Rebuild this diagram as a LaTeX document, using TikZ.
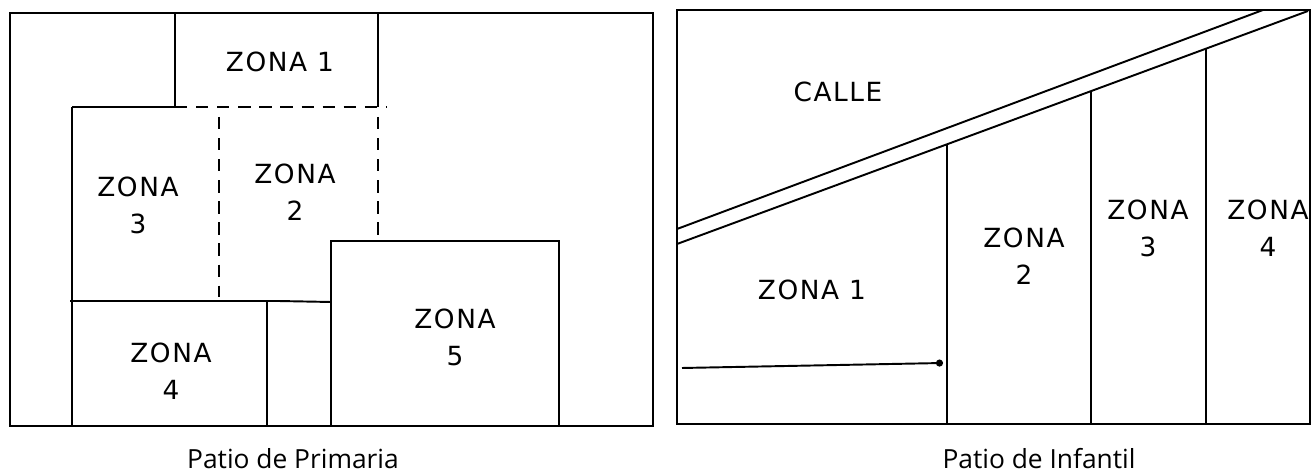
\documentclass[tikz,border=0pt]{standalone}
\usepackage{fontspec}
\setmainfont{Open Sans}
\newfontfamily\mano[LetterSpace=6]{DejaVu Sans}
\usetikzlibrary{arrows.meta}

\begin{document}
\begin{tikzpicture}[x=0.02cm,y=-0.02cm,
  marco/.style={line width=1.5pt},
  linea/.style={line width=1.1pt},
  discont/.style={line width=1.1pt,dash pattern=on 7pt off 5pt},
  zona/.style={font=\mano\fontsize{15}{21}\selectfont,align=center,inner sep=0pt},
  titulo/.style={font=\fontsize{15}{17}\selectfont,anchor=base,inner sep=0pt}]
\useasboundingbox (0,0) rectangle (1313,475);

% patio de primaria
\draw[marco] (10,13) rectangle (653,426);
\draw[linea] (175,13) -- (175,107);
\draw[linea] (378,13) -- (378,107);
\draw[linea] (72,107) -- (175,107);
\draw[discont] (175,107) -- (387,107);
\draw[linea] (72,107) -- (72,426);
\draw[discont] (219,117) -- (219,297);
\draw[discont] (378,117) -- (378,241);
\draw[line width=1.4pt] (70,301) -- (278,301);
\draw[linea] (278,301) -- (331,302);
\draw[linea] (267,301) -- (267,426);
\draw[linea] (331,426) |- (559,241) -- (559,426);
\node[zona] (p1) at (280,62) {ZONA 1};
\node[zona] (p3) at (138,205) {ZONA\\3};
\node[zona] (p2) at (295,192) {ZONA\\2};
\node[zona] (p4) at (171,371) {ZONA\\4};
\node[zona] (p5) at (455,337) {ZONA\\5};
\node[titulo] (prim) at (293,469) {Patio de Primaria};

% patio de infantil
\draw[marco] (677,10) rectangle (1310,424);
\draw[linea] (677,229) -- (1263,10);
\draw[linea] (677,244) -- (1308,11);
\draw[linea] (947,145) -- (947,424);
\draw[linea] (1091,91) -- (1091,424);
\draw[linea] (1206,49) -- (1206,424);
\draw[linea,-{Circle[length=4pt]}] (682,368) -- (943,363);
\node[zona] (calle) at (838,92) {CALLE};
\node[zona] (i1) at (812,290) {ZONA 1};
\node[zona] (i2) at (1024,256) {ZONA\\2};
\node[zona] (i3) at (1148,228) {ZONA\\3};
\node[zona] (i4) at (1268,228) {ZONA\\4};
\node[titulo] (inf) at (1039,469) {Patio de Infantil};
\end{tikzpicture}
\end{document}
